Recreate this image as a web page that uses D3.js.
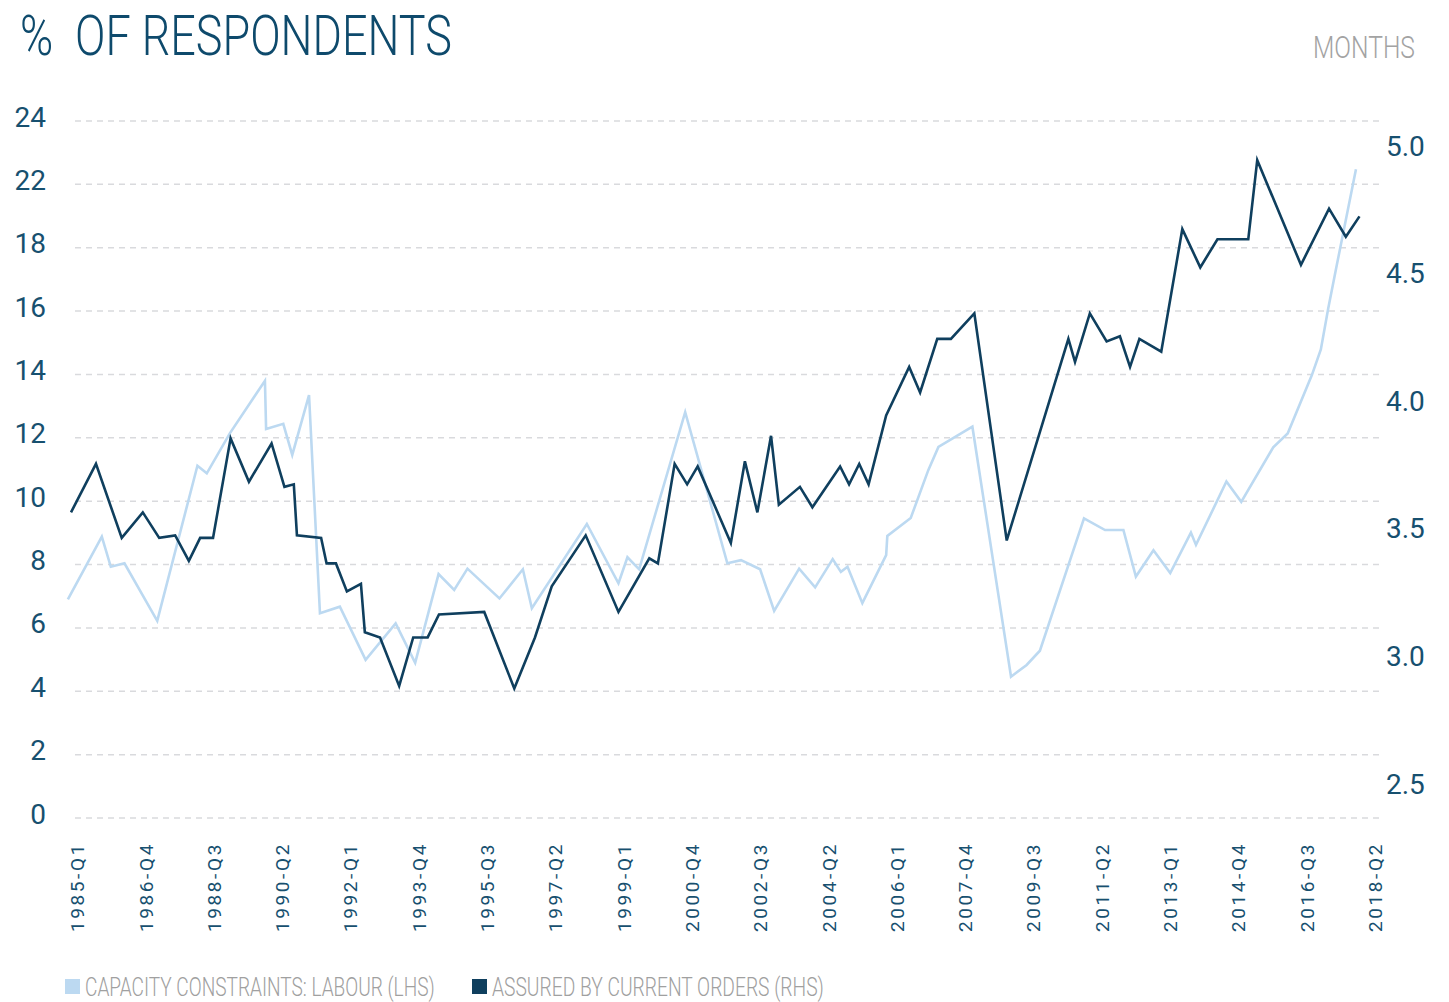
<!DOCTYPE html>
<html>
<head>
  <meta charset="utf-8">
  <title>% of respondents</title>
  <script src="https://cdn.jsdelivr.net/npm/d3@7"></script>
  <style>
    body { margin: 0; background: #fff; }
    text { font-family: Roboto, "DejaVu Sans", sans-serif; }
  </style>
</head>
<body>
  <div id="chart"></div>
  <script>
    // Series (decimal year, value)
    const labourYears = [1984.92, 1985.79, 1986.02, 1986.37, 1987.21, 1988.24, 1988.48, 1989.07, 1989.97, 1990.00,
      1990.44, 1990.67, 1991.10, 1991.38, 1991.89, 1992.55, 1993.32, 1993.82, 1994.42, 1994.82,
      1995.16, 1995.98, 1996.58, 1996.81, 1998.22, 1999.03, 1999.26, 1999.56, 2000.74, 2001.82,
      2002.17, 2002.66, 2003.02, 2003.66, 2004.07, 2004.52, 2004.73, 2004.90, 2005.28, 2005.89,
      2005.92, 2006.52, 2006.97, 2007.23, 2008.10, 2009.09, 2009.49, 2009.83, 2010.96, 2011.50,
      2011.97, 2012.29, 2012.74, 2013.17, 2013.70, 2013.83, 2014.61, 2014.99, 2015.81, 2016.18,
      2016.80, 2017.03, 2017.22, 2017.44, 2017.93];
    const labourValues = [6.90, 8.88, 7.93, 8.04, 6.22, 11.12, 10.88, 12.14, 13.80, 12.28,
      12.44, 11.46, 13.35, 6.46, 6.67, 4.99, 6.14, 4.90, 7.70, 7.20,
      7.87, 6.93, 7.85, 6.62, 9.28, 7.41, 8.23, 7.85, 12.81, 8.04,
      8.14, 7.85, 6.54, 7.87, 7.28, 8.17, 7.77, 7.93, 6.78, 8.30,
      8.90, 9.47, 10.98, 11.71, 12.35, 4.46, 4.83, 5.28, 9.46, 9.09,
      9.09, 7.62, 8.45, 7.73, 9.01, 8.62, 10.62, 9.98, 11.70, 12.14,
      13.98, 14.79, 16.09, 17.46, 20.48];

    const ordersYears = [1985.00, 1985.64, 1986.30, 1986.84, 1987.26, 1987.67, 1988.02, 1988.31, 1988.64, 1989.09,
      1989.56, 1990.14, 1990.47, 1990.71, 1990.79, 1991.41, 1991.55, 1991.79, 1992.07, 1992.43,
      1992.53, 1992.92, 1993.41, 1993.77, 1994.14, 1994.43, 1995.59, 1996.36, 1996.89, 1997.32,
      1998.19, 1999.03, 1999.82, 2000.04, 2000.47, 2000.79, 2001.06, 2001.91, 2002.27, 2002.59,
      2002.94, 2003.14, 2003.68, 2004.00, 2004.71, 2004.94, 2005.20, 2005.44, 2005.89, 2006.48,
      2006.76, 2007.20, 2007.55, 2008.15, 2008.98, 2010.56, 2010.73, 2011.11, 2011.54, 2011.88,
      2012.14, 2012.38, 2012.94, 2013.48, 2013.94, 2014.38, 2015.17, 2015.40, 2016.52, 2017.24,
      2017.67, 2018.02];
    const ordersValues = [3.58, 3.77, 3.48, 3.58, 3.48, 3.49, 3.39, 3.48, 3.48, 3.87,
      3.70, 3.85, 3.68, 3.69, 3.49, 3.48, 3.38, 3.38, 3.27, 3.30,
      3.11, 3.09, 2.90, 3.09, 3.09, 3.18, 3.19, 2.89, 3.09, 3.29,
      3.49, 3.19, 3.40, 3.38, 3.77, 3.69, 3.76, 3.46, 3.78, 3.58,
      3.88, 3.61, 3.68, 3.60, 3.76, 3.69, 3.77, 3.69, 3.96, 4.15,
      4.05, 4.26, 4.26, 4.36, 3.47, 4.26, 4.17, 4.36, 4.25, 4.27,
      4.15, 4.26, 4.21, 4.69, 4.54, 4.65, 4.65, 4.96, 4.55, 4.77,
      4.66, 4.74];

    const xTickLabels = ["1985-Q1", "1986-Q4", "1988-Q3", "1990-Q2", "1992-Q1", "1993-Q4", "1995-Q3",
      "1997-Q2", "1999-Q1", "2000-Q4", "2002-Q3", "2004-Q2", "2006-Q1", "2007-Q4", "2009-Q3",
      "2011-Q2", "2013-Q1", "2014-Q4", "2016-Q3", "2018-Q2"];
    const leftTickValues = [0, 2, 4, 6, 8, 10, 12, 14, 16, 18, 20, 22];
    const leftTickLabels = ["0", "2", "4", "6", "8", "10", "12", "14", "16", "18", "22", "24"];
    const rightTickValues = [2.5, 3.0, 3.5, 4.0, 4.5, 5.0];
    const seriesNames = ["CAPACITY CONSTRAINTS: LABOUR (LHS)", "ASSURED BY CURRENT ORDERS (RHS)"];

    const width = 1449, height = 1002;
    const lightBlue = "#bcd9f1", darkBlue = "#0f3f5e", axisBlue = "#17506f";

    const svg = d3.select("#chart").append("svg")
      .attr("width", width)
      .attr("height", height);

    const quarterToYear = s => +s.slice(0, 4) + (+s.slice(-1) - 1) / 4;

    // squeeze a text horizontally to a given width (the original uses a narrow face)
    function narrowText(sel, px, py, targetWidth) {
      const w = sel.node().getComputedTextLength();
      sel.attr("transform", `translate(${px},${py}) scale(${targetWidth / w},1)`);
      return sel;
    }

    const x = d3.scaleLinear().domain([1985, 2018]).range([71, 1358.7]);
    const yLeft = d3.scaleLinear().domain([0, 22]).range([818, 121]);
    const yRight = d3.scaleLinear().domain([2.5, 5.0]).range([788, 150]);

    // gridlines
    svg.append("g")
      .selectAll("line")
      .data(leftTickValues)
      .join("line")
      .attr("x1", 75).attr("x2", 1379)
      .attr("y1", d => yLeft(d)).attr("y2", d => yLeft(d))
      .attr("stroke", "#d9dadd")
      .attr("stroke-width", 1.5)
      .attr("stroke-dasharray", "6,5");

    // left axis
    const leftAxis = svg.append("g")
      .attr("transform", "translate(46,0)")
      .call(d3.axisLeft(yLeft).tickValues(leftTickValues)
        .tickFormat((d, i) => leftTickLabels[i]).tickSize(0).tickPadding(0));
    leftAxis.select(".domain").remove();
    leftAxis.selectAll("text")
      .attr("dy", "0.18em")
      .attr("fill", axisBlue)
      .style("font-size", "28px");

    // right axis
    const rightAxis = svg.append("g")
      .attr("transform", "translate(1386,0)")
      .call(d3.axisRight(yRight).tickValues(rightTickValues)
        .tickFormat(d3.format(".1f")).tickSize(0).tickPadding(0));
    rightAxis.select(".domain").remove();
    rightAxis.selectAll("text")
      .attr("dy", "0.18em")
      .attr("fill", axisBlue)
      .style("font-size", "28px");

    // x axis with rotated labels
    const xAxis = svg.append("g")
      .attr("transform", "translate(0,818)")
      .call(d3.axisBottom(x).tickValues(xTickLabels.map(quarterToYear))
        .tickFormat((d, i) => xTickLabels[i]).tickSize(0));
    xAxis.select(".domain").remove();
    xAxis.selectAll("text")
      .attr("transform", "rotate(-90)")
      .attr("x", -114)
      .attr("y", 6)
      .attr("dy", "0.36em")
      .attr("text-anchor", "start")
      .attr("fill", axisBlue)
      .style("font-size", "19px")
      .style("letter-spacing", "2.6px");

    // lines
    const labour = labourYears.map((t, i) => [t, labourValues[i]]);
    const orders = ordersYears.map((t, i) => [t, ordersValues[i]]);

    svg.append("path")
      .datum(labour)
      .attr("fill", "none")
      .attr("stroke", lightBlue)
      .attr("stroke-width", 2.6)
      .attr("d", d3.line().x(d => x(d[0])).y(d => yLeft(d[1])));

    svg.append("path")
      .datum(orders)
      .attr("fill", "none")
      .attr("stroke", darkBlue)
      .attr("stroke-width", 2.6)
      .attr("d", d3.line().x(d => x(d[0])).y(d => yRight(d[1])));

    // title and unit
    const title = svg.append("text")
      .attr("fill", "#0e4a6c")
      .style("font-size", "56px")
      .style("font-weight", 300)
      .style("white-space", "pre")
      .text("%  OF RESPONDENTS");
    narrowText(title, 20, 55, 432);

    const unit = svg.append("text")
      .attr("fill", "#a3a3a3")
      .style("font-size", "32px")
      .style("font-weight", 300)
      .text("MONTHS");
    narrowText(unit, 1313, 58, 102);

    // legend
    const legend = svg.append("g");
    const legendX = [65, 472];
    const legendLen = [350, 332];
    const legendColors = [lightBlue, darkBlue];
    seriesNames.forEach((name, i) => {
      legend.append("rect")
        .attr("x", legendX[i]).attr("y", 979)
        .attr("width", 15).attr("height", 15)
        .attr("fill", legendColors[i]);
      const t = legend.append("text")
        .attr("fill", "#a0a0a0")
        .style("font-size", "25px")
        .style("font-weight", 300)
        .text(name);
      narrowText(t, legendX[i] + 20, 996, legendLen[i]);
    });
  </script>
</body>
</html>
